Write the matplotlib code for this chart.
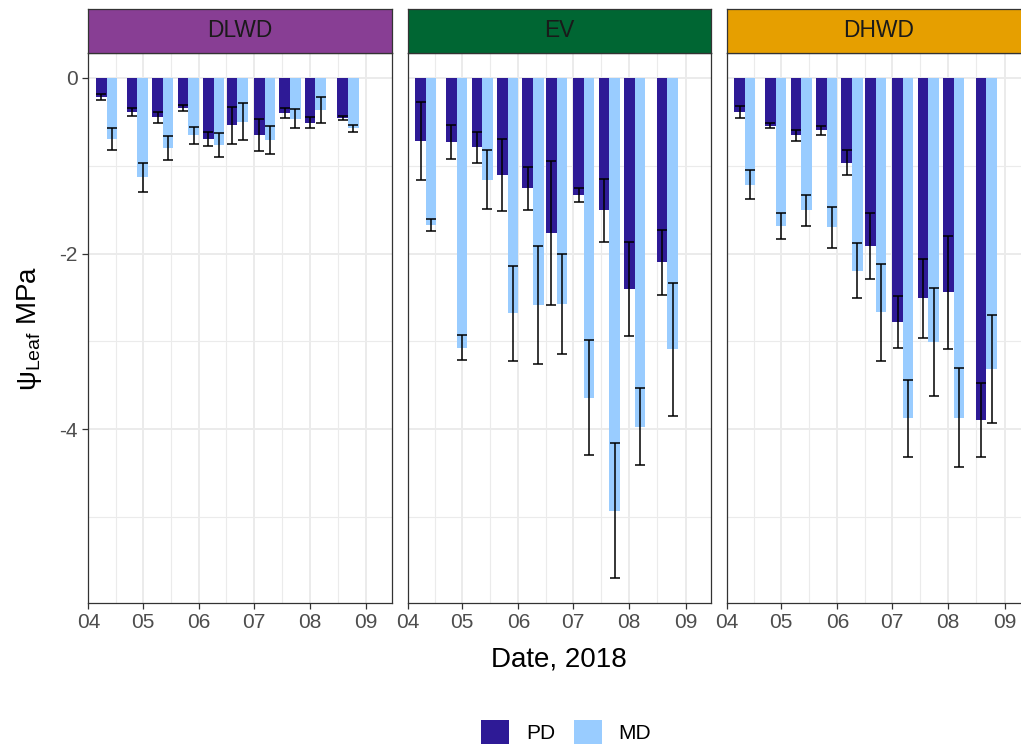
import datetime as dt

import matplotlib
matplotlib.use("Agg")
import matplotlib.pyplot as plt
import matplotlib.dates as mdates
from matplotlib.patches import Patch
import numpy as np

plt.rcParams['font.family'] = ['Liberation Sans', 'DejaVu Sans']
plt.rcParams['mathtext.fontset'] = 'custom'
plt.rcParams['mathtext.rm'] = 'Liberation Sans'
plt.rcParams['mathtext.it'] = 'Liberation Sans:italic'
plt.rcParams['axes.unicode_minus'] = False

# ---- data: leaf water potential (MPa), mean and standard error ----
dates = ["2018-04-11", "2018-04-28", "2018-05-12", "2018-05-26", "2018-06-09",
         "2018-06-22", "2018-07-07", "2018-07-21", "2018-08-04", "2018-08-22"]
sites = ["DLWD", "EV", "DHWD"]
strip_colors = ["#883E94", "#006633", "#E69F00"]

pd_dlwd = [-0.22, -0.39, -0.45, -0.34, -0.70, -0.54, -0.65, -0.40, -0.51, -0.46]
pd_dlwd_se = [0.03, 0.04, 0.06, 0.035, 0.08, 0.21, 0.18, 0.06, 0.065, 0.025]
md_dlwd = [-0.70, -1.13, -0.80, -0.655, -0.765, -0.50, -0.71, -0.465, -0.37, -0.575]
md_dlwd_se = [0.125, 0.165, 0.14, 0.10, 0.135, 0.21, 0.16, 0.105, 0.145, 0.04]

pd_ev = [-0.72, -0.73, -0.79, -1.11, -1.26, -1.77, -1.335, -1.51, -2.40, -2.10]
pd_ev_se = [0.44, 0.19, 0.175, 0.41, 0.24, 0.82, 0.08, 0.36, 0.535, 0.37]
md_ev = [-1.675, -3.07, -1.16, -2.68, -2.585, -2.57, -3.64, -4.925, -3.97, -3.09]
md_ev_se = [0.065, 0.145, 0.335, 0.54, 0.675, 0.57, 0.655, 0.765, 0.44, 0.757]

pd_dhwd = [-0.39, -0.545, -0.655, -0.60, -0.965, -1.91, -2.775, -2.51, -2.44, -3.89]
pd_dhwd_se = [0.065, 0.03, 0.065, 0.05, 0.145, 0.375, 0.295, 0.445, 0.64, 0.42]
md_dhwd = [-1.215, -1.69, -1.51, -1.70, -2.195, -2.67, -3.875, -3.01, -3.865, -3.315]
md_dhwd_se = [0.17, 0.15, 0.18, 0.235, 0.31, 0.55, 0.435, 0.615, 0.565, 0.615]

series = [
    (pd_dlwd, pd_dlwd_se, md_dlwd, md_dlwd_se),
    (pd_ev, pd_ev_se, md_ev, md_ev_se),
    (pd_dhwd, pd_dhwd_se, md_dhwd, md_dhwd_se),
]
legend_labels = ["PD", "MD"]
PD_COLOR = "#2E1A96"
MD_COLOR = "#99CCFF"

# ---- layout ----
W, H = 1021, 747
fig = plt.figure(figsize=(W / 100, H / 100), dpi=100)

panel_left = [88.4, 407.7, 726.7]
panel_w = 303.3
panel_top, panel_bot = 52.7, 603.0
strip_top = 9.0

x = mdates.date2num([dt.datetime.strptime(d, "%Y-%m-%d") for d in dates])
group_w = 0.9 * np.min(np.diff(x))
bar_w = group_w / 2

month_starts = [dt.datetime(2018, m, 1) for m in range(4, 10)]
major_x = mdates.date2num(month_starts)
minor_x = (major_x[:-1] + major_x[1:]) / 2
xlim = (mdates.date2num(dt.datetime(2018, 4, 1)), mdates.date2num(dt.datetime(2018, 9, 15)))

lowest = min(min(np.array(m) - np.array(s)) for p, ps, m, s in series)
lowest = min(lowest, min(min(np.array(p) - np.array(ps)) for p, ps, m, s in series))
pad = 0.05 * (0 - lowest)
ylim = (lowest - pad, pad)

GRID = "#EBEBEB"
EDGE = "#333333"

for i, (site, scol, (pdv, pds, mdv, mds)) in enumerate(zip(sites, strip_colors, series)):
    ax = fig.add_axes([panel_left[i] / W, 1 - panel_bot / H,
                       panel_w / W, (panel_bot - panel_top) / H])
    ax.set_axisbelow(True)
    for gx in major_x:
        ax.axvline(gx, color=GRID, lw=1.4, zorder=0)
    for gx in minor_x:
        ax.axvline(gx, color=GRID, lw=0.8, zorder=0)
    for gy in (0, -2, -4):
        ax.axhline(gy, color=GRID, lw=1.4, zorder=0)
    for gy in (-1, -3, -5):
        ax.axhline(gy, color=GRID, lw=0.8, zorder=0)

    ax.bar(x - bar_w / 2, pdv, width=bar_w, color=PD_COLOR, zorder=2, linewidth=0)
    ax.bar(x + bar_w / 2, mdv, width=bar_w, color=MD_COLOR, zorder=2, linewidth=0)
    ax.errorbar(x - bar_w / 2, pdv, yerr=pds, fmt="none", ecolor="black",
                elinewidth=1.1, capsize=3.5, capthick=1.1, zorder=3)
    ax.errorbar(x + bar_w / 2, mdv, yerr=mds, fmt="none", ecolor="black",
                elinewidth=1.1, capsize=3.5, capthick=1.1, zorder=3)

    ax.set_xlim(xlim)
    ax.set_ylim(ylim)
    ax.set_xticks(major_x)
    ax.set_xticklabels([d.strftime("%m") for d in month_starts])
    ax.set_yticks([0, -2, -4])
    if i == 0:
        ax.set_yticklabels(["0", "-2", "-4"])
    else:
        ax.tick_params(axis="y", left=False, labelleft=False)
    ax.tick_params(axis="both", colors=EDGE, labelcolor="#4D4D4D",
                   labelsize=15, length=4, width=0.9, pad=3.5)
    for sp in ax.spines.values():
        sp.set_color(EDGE)
        sp.set_linewidth(0.9)

    sax = fig.add_axes([panel_left[i] / W, 1 - panel_top / H,
                        panel_w / W, (panel_top - strip_top) / H])
    sax.set_facecolor(scol)
    sax.set_xticks([])
    sax.set_yticks([])
    for sp in sax.spines.values():
        sp.set_color(EDGE)
        sp.set_linewidth(0.9)
    sax.text(0.5, 0.5, site, transform=sax.transAxes, ha="center", va="center",
             fontsize=16.4, color="#1A1A1A")

fig.text(559 / W, 1 - 667 / H, "Date, 2018", ha="center", va="baseline", fontsize=20)
fig.text(30 / W, 1 - (panel_top + panel_bot) / 2 / H, "ψ$_{\\mathrm{Leaf}}$ MPa",
         rotation=90, ha="center", va="center", fontsize=20)

handles = [Patch(facecolor=PD_COLOR, edgecolor="none"), Patch(facecolor=MD_COLOR, edgecolor="none")]
fig.legend(handles, legend_labels, loc="center", bbox_to_anchor=(566 / W, 1 - 732 / H),
           ncol=2, frameon=False, fontsize=15, handlelength=1.35, handleheight=1.35,
           handletextpad=0.8, columnspacing=0.9, borderpad=0, borderaxespad=0)

fig.savefig("out.png", dpi=100)
